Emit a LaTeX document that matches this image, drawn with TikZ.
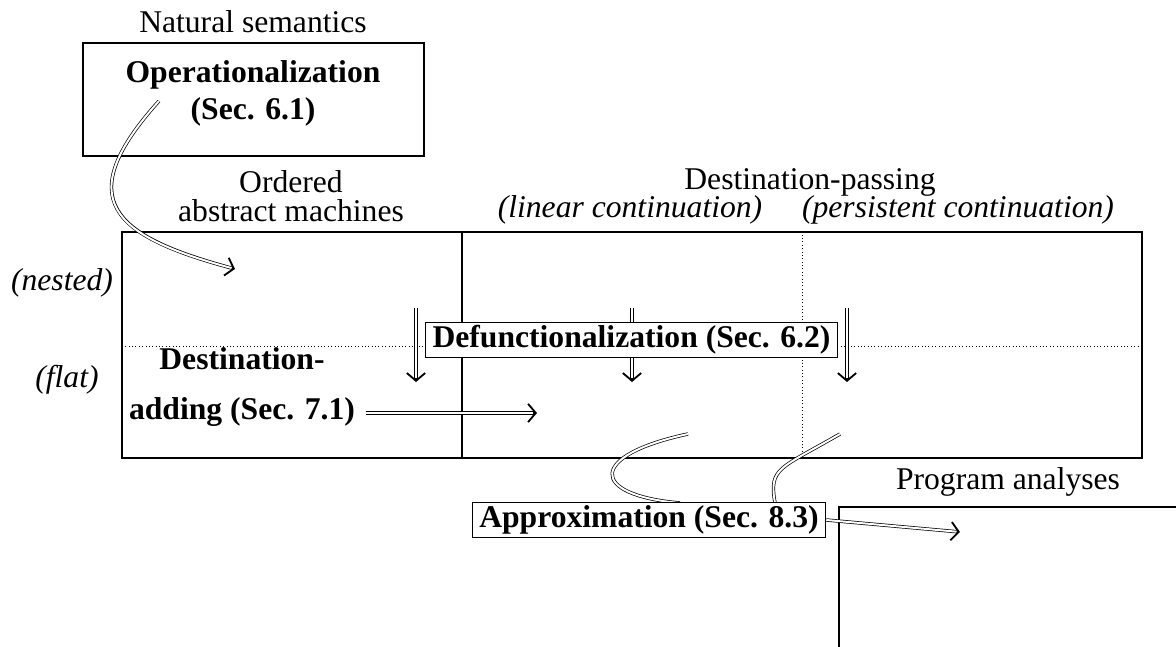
\documentclass[tikz,border=0pt]{standalone}
\usepackage{fontspec}
\setmainfont{Liberation Serif}
\usetikzlibrary{arrows.meta}
\tikzset{
  frame/.style={line width=1.3pt},
  dbl/.style={double, double distance=1.4pt, line width=0.5pt},
  dblarrow/.style={line width=2.4pt, -{Straight Barb[length=5.5pt,width=13pt,line width=1.3pt]},
    postaction={draw=white, line width=1.4pt, -, shorten >=2.5pt}},
  stage/.style={draw, fill=white, line width=0.7pt, inner xsep=5pt, inner ysep=2pt, font=\bfseries},
}
\begin{document}
\fontsize{22.5}{21}\selectfont
\begin{tikzpicture}
\useasboundingbox (0,0) rectangle (29.4,16.175);
\draw[frame] (2.075,12.275) rectangle (10.6,15.1);
\draw[frame] (3.05,4.725) rectangle (28.55,10.375);
\draw[frame] (11.55,4.725) -- (11.55,10.375);
\draw[dotted] (20.05,4.725) -- (20.05,10.375);
\draw[dotted] (3.05,7.525) -- (28.55,7.525);
\draw[frame] (20.975,0) -- (20.975,3.5) -- (29.4,3.5);

\node (natsem) at (6.325,15.625) {Natural semantics};
\node[align=center, font=\bfseries] (oper) at (6.325,13.84) {Operationalization\\[6pt](Sec. 6.1)};
\node[align=center] (oam) at (7.275,11.275) {Ordered\\abstract machines};
\node (dps) at (20.25,11.625) {Destination-passing};
\node[font=\itshape] (lin) at (15.75,10.925) {(linear continuation)};
\node[font=\itshape] (pers) at (23.95,10.925) {(persistent continuation)};
\node[font=\itshape] (nested) at (1.55,9.1) {(nested)};
\node[font=\itshape] (flat) at (1.675,6.675) {(flat)};
\node (progan) at (25.2,4.125) {Program analyses};
\node[align=center, font=\bfseries] (destadd) at (6.05,6.5) {Destination-\\[14pt]adding (Sec. 7.1)};

\coordinate (opStart) at (3.975,13.65);
\coordinate (opEnd) at (5.875,9.45);
\coordinate (d1) at (10.4,8.475);
\coordinate (d2) at (15.8,8.475);
\coordinate (d3) at (21.175,8.475);
\coordinate (addEnd) at (13.425,5.85);
\coordinate (c1) at (17.2,5.325);
\coordinate (c2) at (21.0,5.325);
\coordinate (progEnd) at (24.0,2.875);

\path[draw,dblarrow] (opStart) .. controls +(228:3.3) and +(165:3.2) .. (opEnd);
\path[draw,dblarrow] (d1) -- ++(0,-1.85);
\path[draw,dblarrow] (d2) -- ++(0,-1.85);
\path[draw,dblarrow] (d3) -- ++(0,-1.85);
\path[draw,dblarrow] (destadd.east |- addEnd) -- (addEnd);

\node[stage] (defun) at (15.7875,7.675) {Defunctionalization (Sec. 6.2)};

\path[draw,dbl] (c1) .. controls +(192:2.55) and +(175:2.3) .. (17.0,3.6);
\path[draw,dbl] (c2) .. controls +(210:1.75) and +(100:0.9) .. (19.375,3.6);
\node[stage] (approx) at (16.225,3.175) {Approximation (Sec. 8.3)};
\path[draw,dblarrow] (approx.east) -- (progEnd);
\end{tikzpicture}
\end{document}
